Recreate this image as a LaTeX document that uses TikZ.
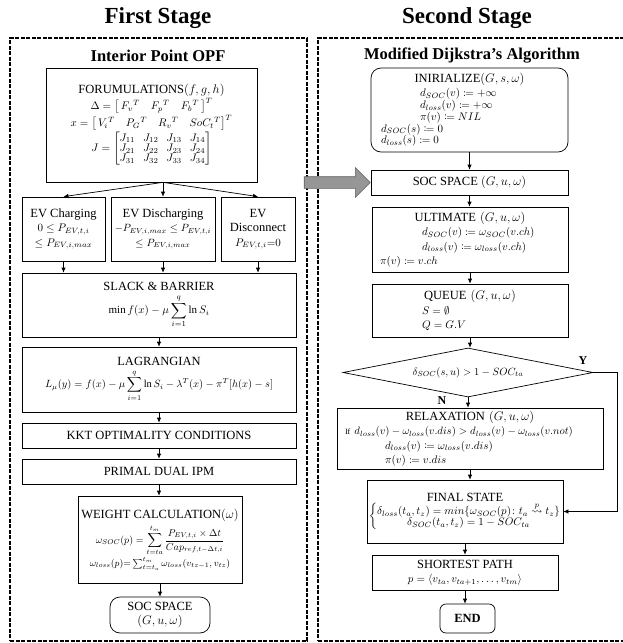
\RequirePackage{fix-cm}
\documentclass[tikz,border=0pt]{standalone}
\usepackage{amsmath,amssymb,mathtools}
\usepackage{fontspec}
\setmainfont{Liberation Serif}
\usetikzlibrary{positioning, arrows.meta, shapes.geometric, shapes.arrows}
\definecolor{arrowgray}{RGB}{150, 150, 150}
\definecolor{arrowedge}{RGB}{95, 95, 95}
% math line at its own size
\newcommand{\mln}[2][11]{{\fontsize{#1}{#1}\selectfont$#2$}}

\begin{document}
\begin{tikzpicture}[x=1pt, y=-1pt,
    box/.style={draw, line width=0.7pt, align=center, inner sep=2pt, font=\fontsize{12.5}{14.5}\selectfont},
    lbox/.style={box, align=left, inner xsep=8pt},
    rbox/.style={box, rounded corners=10pt},
    frame/.style={draw, line width=1.5pt, dash pattern=on 4pt off 1.5pt, inner sep=0pt},
    stage/.style={font=\fontsize{23}{26}\selectfont\bfseries},
    part/.style={font=\fontsize{16.5}{19}\selectfont\bfseries},
    cond/.style={draw, diamond, aspect=5.1, inner sep=0pt, line width=0.7pt},
    yn/.style={font=\fontsize{12}{14}\selectfont\bfseries},
    arr/.style={-{Latex[length=5pt, width=4.5pt]}, line width=0.7pt},
    bigarrow/.style={single arrow, draw=arrowedge, fill=arrowgray, line width=0.6pt, inner sep=5.5pt, minimum width=29pt, single arrow head extend=9pt}]
    \useasboundingbox (0,0) rectangle (622,643);

    % Titles and frames
    \node[stage] (t1) at (158,18) {First Stage};
    \node[stage] (t2) at (467,18) {Second Stage};
    \node[frame, minimum width=297pt, minimum height=603pt] (lframe) at (158.5,339.5) {};
    \node[frame, minimum width=308pt, minimum height=603pt] (rframe) at (472,339.5) {};
    \node[part] (h1) at (158,56) {Interior Point OPF};
    \node[part] (h2) at (472,56) {Modified Dijkstra's Algorithm};

    % First stage
    \node[box, minimum width=211pt, minimum height=114pt] (form) at (151.5,125) {FORUMULATIONS$(f,g,h)$\\
        \mln{\Delta=\big[\,F_v{}^{T}\quad F_p{}^{T}\quad F_b{}^{T}\,\big]^{T}}\\
        \mln{x=\big[\,V_i{}^{T}\quad P_G{}^{T}\quad R_v{}^{T}\quad SoC_t{}^{T}\big]^{T}}\\[1pt]
        \mln[11]{\def\arraystretch{0.85}\setlength\arraycolsep{4pt}J=\begin{bmatrix}J_{11}&J_{12}&J_{13}&J_{14}\\ J_{21}&J_{22}&J_{23}&J_{24}\\ J_{31}&J_{32}&J_{33}&J_{34}\end{bmatrix}}};
    \node[box, minimum width=83pt, minimum height=64pt] (chg) at (63.5,229) {EV Charging\\ \mln{0\le P_{EV,t,i}}\\ \mln{\le P_{EV,i,max}}};
    \node[box, minimum width=104pt, minimum height=64pt] (dis) at (163,229) {EV Discharging\\ \mln[10.5]{-P_{EV,i,max}\le P_{EV,t,i}}\\ \mln[10.5]{\le P_{EV,i,max}}};
    \node[box, minimum width=74pt, minimum height=64pt] (dcn) at (258,229) {EV\\ Disconnect\\ \mln{P_{EV,t,i}{=}0}};
    \node[box, minimum width=274pt, minimum height=64pt] (slack) at (159,305) {SLACK \& BARRIER\\[3pt]
        \mln{\min f(x)-\mu\displaystyle\sum_{i=1}^{q}\ln S_i}};
    \node[box, minimum width=274pt, minimum height=65pt] (lag) at (159,379.5) {LAGRANGIAN\\[3pt]
        \mln[10.5]{L_\mu(y)=f(x)-\mu\displaystyle\sum_{i=1}^{q}\ln S_i-\lambda^T(x)-\pi^T[h(x)-s]}};
    \node[box, minimum width=274pt, minimum height=25pt] (kkt) at (159,435.5) {KKT OPTIMALITY CONDITIONS};
    \node[box, minimum width=274pt, minimum height=25pt] (ipm) at (159,471.5) {PRIMAL DUAL IPM};
    \node[box, minimum width=164pt, minimum height=87pt] (weight) at (160,539.5) {WEIGHT CALCULATION$(\omega)$\\[3pt]
        \mln[10]{\omega_{SOC}(p)=\displaystyle\sum_{t=ta}^{t_m}\frac{P_{EV,t,i}\times\Delta t}{Cap_{ref,t-\Delta t,i}}}\\[1pt]
        \mln[9.5]{\omega_{loss}(p){=}\sum\nolimits_{t=t_a}^{t_m}\omega_{loss}(v_{tz-1},v_{tz})}};
    \node[rbox, minimum width=100pt, minimum height=36pt] (soc1) at (160,615) {SOC SPACE\\ $(G,u,\omega)$};

    % Second stage
    \node[lbox, rounded corners=10pt, text width=177pt, inner xsep=10pt, minimum height=84pt, font=\fontsize{12.5}{11.8}\selectfont] (init) at (469.5,110) {\makebox[\linewidth]{INIRIALIZE$(G,s,\omega)$}\\[2pt]
        \hspace*{39pt}\mln{d_{SOC}(v)\coloneqq+\infty}\\
        \hspace*{39pt}\mln{d_{loss}(v)\coloneqq+\infty}\\
        \hspace*{39pt}\mln{\pi(v)\coloneqq NIL}\\
        \mln{d_{SOC}(s)\coloneqq 0}\\
        \mln{d_{loss}(s)\coloneqq 0}};
    \node[box, minimum width=197pt, minimum height=25pt] (soc2) at (469.5,182.5) {SOC SPACE $(G,u,\omega)$};
    \node[lbox, text width=180pt, minimum height=65pt] (ult) at (470,239.5) {\makebox[\linewidth]{ULTIMATE $(G,u,\omega)$}\\
        \hspace*{42pt}\mln{d_{SOC}(v)\coloneqq\omega_{SOC}(v.ch)}\\
        \hspace*{42pt}\mln{d_{loss}(v)\coloneqq\omega_{loss}(v.ch)}\\
        \mln{\pi(v)\coloneqq v.ch}};
    \node[lbox, text width=180pt, minimum height=53pt] (que) at (470,310.5) {\makebox[\linewidth]{QUEUE $(G,u,\omega)$}\\
        \hspace*{42pt}\mln{S=\emptyset}\\
        \hspace*{42pt}\mln{Q=G.V}};
    \node[cond, minimum width=250pt, minimum height=49pt] (dec) at (468,372.5) {\mln[10.5]{\delta_{SOC}(s,u)>1-SOC_{ta}}};
    \node[lbox, text width=250pt, minimum height=61pt] (rel) at (470,438.5) {\makebox[\linewidth]{RELAXATION $(G,u,\omega)$}\\
        {\footnotesize If} \mln[10.7]{d_{loss}(v)-\omega_{loss}(v.dis)>d_{loss}(v)-\omega_{loss}(v.not)}\\
        \hspace*{40pt}\mln{d_{loss}(v)\coloneqq\omega_{loss}(v.dis)}\\
        \hspace*{40pt}\mln{\pi(v)\coloneqq v.dis}};
    \node[box, minimum width=186pt, minimum height=63pt] (fin) at (465,511.5) {FINAL STATE\\
        \mln{\left\{\begin{array}{@{}c@{}}\delta_{loss}(t_a,t_z)=min\{\omega_{SOC}(p)\colon t_a\stackrel{p}{\leadsto}t_z\}\\ \delta_{SOC}(t_a,t_z)=1-SOC_{ta}\end{array}\right.}};
    \node[box, minimum width=186pt, minimum height=35pt] (sp) at (465,572.5) {SHORTEST PATH\\ \mln{p=\langle v_{ta},v_{ta+1},\dots,v_{tm}\rangle}};
    \node[rbox, rounded corners=6pt, minimum width=55pt, minimum height=29pt, font=\fontsize{12.5}{14}\selectfont\bfseries] (endn) at (467.5,618.5) {END};

    % Connectors
    \coordinate (fork) at (form.south -| dis.north);
    \foreach \n in {chg, dis, dcn} {
        \draw[arr] (fork) -- (\n.north);
        \draw[arr] (\n.south) -- (\n.south |- slack.north);
    }
    \foreach \a/\b in {slack/lag, lag/kkt, kkt/ipm, ipm/weight, weight/soc1, init/soc2, soc2/ult, ult/que, que/dec, dec/rel, rel/fin, fin/sp, sp/endn}
        \draw[arr] (\a.south) -- (\a.south |- \b.north);
    \draw[arr] (dec.east) -- ++(24,0) |- (fin.east);
    \node[yn] (ylab) at (583,361) {Y};
    \node[yn] (nlab) at (442,401) {N};
    \node[bigarrow, minimum height=66pt, anchor=tip] (link) at (soc2.west) {};
\end{tikzpicture}
\end{document}
